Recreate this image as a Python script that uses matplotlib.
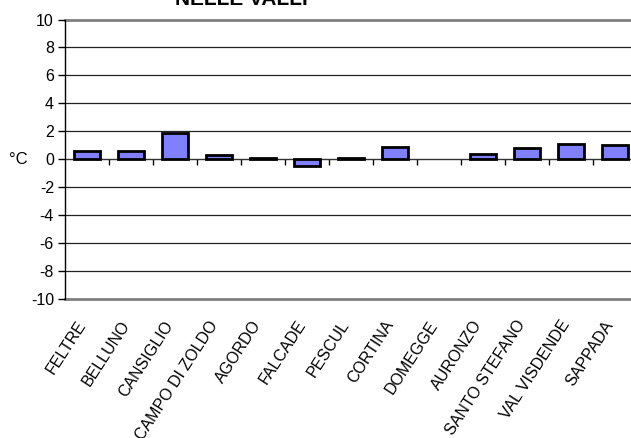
import numpy as np
import matplotlib
matplotlib.use("Agg")
import matplotlib.pyplot as plt
import matplotlib.transforms as mtransforms

plt.rcParams['font.family'] = ['Liberation Sans', 'DejaVu Sans']

stations = ["FELTRE", "BELLUNO", "CANSIGLIO", "CAMPO DI ZOLDO", "AGORDO", "FALCADE",
            "PESCUL", "CORTINA", "DOMEGGE", "AURONZO", "SANTO STEFANO", "VAL VISDENDE", "SAPPADA"]
values = [0.6, 0.6, 1.9, 0.3, 0.1, -0.5, 0.1, 0.9, np.nan, 0.4, 0.8, 1.1, 1.0]
yticks = [-10, -8, -6, -4, -2, 0, 2, 4, 6, 8, 10]

W, H = 631, 438
fig = plt.figure(figsize=(W / 100, H / 100), dpi=100)
left, right = 65, 65 + 13 * 44
top, bottom = 19.5, 299
ax = fig.add_axes([left / W, 1 - bottom / H, (right - left) / W, (bottom - top) / H])

x = np.arange(len(stations))
ax.bar(x, values, width=0.6, color='#8080FF', edgecolor='black', linewidth=2.0, zorder=3)

ax.set_xlim(-0.5, len(stations) - 0.5)
ax.set_ylim(-10, 10)

for yv in yticks:
    if yv in (10, -10):
        ax.axhline(yv, color='#808080', lw=2, clip_on=False, zorder=1)
    elif yv != 0:
        ax.axhline(yv, color='#222222', lw=0.9, zorder=1)

for s in ['top', 'right']:
    ax.spines[s].set_visible(False)
ax.spines['left'].set_color('black')
ax.spines['left'].set_linewidth(1.0)
ax.spines['bottom'].set_position(('data', 0))
ax.spines['bottom'].set_color('#333333')
ax.spines['bottom'].set_linewidth(1.0)
ax.spines['bottom'].set_zorder(2)

ax.set_yticks(yticks)
ax.set_yticklabels([str(v) for v in yticks])
ax.tick_params(axis='y', direction='out', length=5, width=1, labelsize=11.5, pad=3, color='black')

ax.set_xticks(np.arange(0.5, len(stations) - 1, 1))
ax.set_xticklabels([])
ax.tick_params(axis='x', direction='out', length=4, width=1, color='black')

trans = mtransforms.blended_transform_factory(ax.transData, ax.transAxes)
trans = mtransforms.offset_copy(trans, fig=fig, x=-11, y=-19, units='dots')
for i, name in enumerate(stations):
    ax.text(i, 0, name, transform=trans, rotation=57, rotation_mode='anchor',
            ha='right', va='top', fontsize=11.5)

fig.text(18 / W, 1 - 159 / H, "°C", ha='center', va='center', fontsize=12)
fig.text(175 / W, 1 - 5 / H, "NELLE VALLI", ha='left', va='baseline', fontsize=15, fontweight='bold')

fig.savefig("out.png", dpi=100)
